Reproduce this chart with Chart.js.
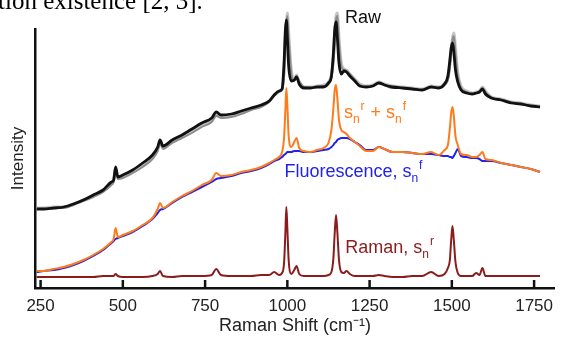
<!DOCTYPE html>
<html>
<head>
<meta charset="utf-8">
<script src="https://cdn.jsdelivr.net/npm/chart.js@4/dist/chart.umd.min.js"></script>
<style>
  html,body{margin:0;padding:0;background:#fff;overflow:hidden;}
  #wrap{position:relative;width:561px;height:337px;}
  #cut{position:absolute;left:-2px;top:-11px;font:25px "Liberation Serif",serif;line-height:24px;color:#000;white-space:nowrap;z-index:2;}
  canvas{position:absolute;left:0;top:0;}
</style>
</head>
<body>
<div id="wrap">
  <div id="cut">tion existence [2, 3].</div>
  <canvas id="spec" width="561" height="337"></canvas>
</div>
<script>
/* ---- data (arbitrary intensity units) ---- */
const shift = [
  238,260,290,320,350,380,410,440,465,472,478,485,500,
  530,560,590,606,613,622,650,680,710,740,770,784,798,
  830,860,890,920,945,960,975,984,990,994,997,1000,1004,
  1012,1021,1028,1036,1050,1070,1090,1110,1125,1134,1140,1144,1148,
  1152,1157,1164,1172,1180,1190,1205,1220,1240,1260,1278,1295,1320,
  1350,1380,1410,1437,1460,1478,1488,1494,1498,1502,1506,1511,1518,
  1528,1545,1562,1574,1584,1593,1602,1620,1650,1680,1710,1740,1768
];
const raw = [
  79,79,80,81,84,88,93,98,106,108,121,111,113,
  118,125,133,141,148,142,148,153,159,165,170,176,173,
  174,177,180,183,187,193,197,199,225,258,268,250,222,
  207,208,211,204,200,200,201,201,205,212,235,258,266,
  250,225,214,217,216,212,207,202,201,202,205,203,201,
  200,199,198,201,200,204,212,228,240,245,236,218,206,
  198,195,194,195,196,199,194,190,188,185,184,182,181
];
const rawRepA = [
  79,79,80,80,83,87,91,96,103,106,117,109,110,
  115,121,129,137,144,139,145,150,155,161,166,172,170,
  171,174,178,181,186,192,196,198,212,245,262,272,250,
  215,207,212,207,201,200,201,202,204,210,225,245,268,
  272,245,222,218,217,214,208,203,201,202,205,203,200,
  200,199,198,201,200,203,208,220,235,248,252,235,212,
  200,196,194,195,196,200,196,190,188,186,184,182,181
];
const rawRepB = [
  80,80,81,81,84,88,92,97,104,107,119,110,112,
  116,123,131,139,146,141,147,151,157,163,168,174,171,
  172,176,179,182,187,193,197,199,218,250,265,275,255,
  218,208,213,206,201,201,202,203,206,213,230,255,272,
  275,250,225,219,218,214,209,204,202,203,206,204,202,
  201,200,199,202,201,205,210,225,238,250,255,240,215,
  202,197,195,196,197,201,197,191,189,186,185,183,182
];
const combined = [
  17,17,19,21,24,28,33,39,46,49,60,51,53,
  57,63,70,79,85,80,86,92,97,103,108,115,112,
  113,116,118,121,125,128,131,136,150,178,200,183,152,
  141,146,150,140,137,136,138,140,145,158,180,198,203,
  190,168,158,156,154,150,146,142,137,137,141,139,136,
  136,135,134,136,133,138,143,160,175,181,172,152,143,
  134,133,131,131,133,136,129,128,125,123,121,119,116
];
const fluorescence = [
  16,17,18,20,23,27,32,38,45,47,49,50,52,
  56,62,69,75,78,79,85,91,96,101,106,109,110,
  112,115,117,120,124,127,129,131,133,134,135,136,136,
  136,137,137,137,136,136,137,138,139,141,143,145,146,
  148,149,150,150,150,149,146,143,138,138,141,139,136,
  136,135,134,134,133,132,132,131,131,130,132,135,139,
  132,131,130,130,129,127,127,127,125,123,121,119,116
];
const raman = [
  11,11,11,11,11,11,11,12,12,12,14,12,11,
  11,11,12,14,17,12,11,12,12,12,13,19,13,
  12,12,12,13,13,16,13,15,25,55,81,60,28,
  14,18,22,14,12,12,12,12,13,16,30,55,73,
  56,28,16,15,17,14,12,12,12,12,13,12,11,
  11,12,12,16,12,14,20,28,48,62,48,26,15,
  12,12,12,15,13,20,12,12,12,12,12,12,12
];
const tickVals = [250,500,750,1000,1250,1500,1750];

const C_RAW='#111111', C_SUM='#ff7a1a', C_FLU='#2222ee', C_RAM='#8a1c1c';
const FONT = '"Liberation Sans", Arial, sans-serif';

const pts = arr => arr.map((v,i)=>({x:shift[i], y:v}));
const line = (data,color,w) => ({data:pts(data), borderColor:color, borderWidth:w, pointRadius:0,
  cubicInterpolationMode:'monotone', fill:false, clip:false});

/* rich labels with sub/superscripts, placed in data space */
const LABELS = [
  {x:1175, y:265, color:C_RAW, parts:[['Raw']]},
  {x:1172, y:170, color:C_SUM, parts:[['s'],['n','sub'],['r','sup'],[' + '],['s'],['n','sub'],['f','sup']]},
  {x:991,  y:111, color:C_FLU, parts:[['Fluorescence, s'],['n','sub'],['f','sup']]},
  {x:1176, y:35,  color:C_RAM, parts:[['Raman, s'],['n','sub'],['r','sup']]}
];

const labelPlugin = {
  id:'labels',
  afterDatasetsDraw(chart){
    const {ctx, scales:{x,y}} = chart;
    ctx.save();
    ctx.textBaseline='alphabetic';
    LABELS.forEach(l=>{
      let px = x.getPixelForValue(l.x);
      const py = y.getPixelForValue(l.y);
      ctx.fillStyle = l.color;
      l.parts.forEach(([t,k])=>{
        ctx.font = (k ? '12px ' : '18px ') + FONT;
        const dy = k==='sub' ? 5 : k==='sup' ? -8 : 0;
        ctx.fillText(t, px, py+dy);
        px += ctx.measureText(t).width + (k ? 1 : 0);
      });
    });
    ctx.restore();
  }
};

/* tick marks point up into the plot */
const innerTicks = {
  id:'innerTicks',
  afterDraw(chart){
    const {ctx, scales:{x}} = chart;
    ctx.save(); ctx.strokeStyle='#111'; ctx.lineWidth=2.5;
    tickVals.forEach(v=>{
      const px = x.getPixelForValue(v);
      ctx.beginPath(); ctx.moveTo(px, x.top); ctx.lineTo(px, x.top-8); ctx.stroke();
    });
    ctx.restore();
  }
};

new Chart(document.getElementById('spec'), {
  type:'line',
  data:{datasets:[
    line(raman, C_RAM, 2),
    line(combined, C_SUM, 2),
    line(fluorescence, C_FLU, 2),
    line(raw, C_RAW, 2.8),
    line(rawRepA, '#8c8c8c', 2),
    line(rawRepB, '#c4c4c4', 3)
  ]},
  options:{
    responsive:false, animation:false, devicePixelRatio:1,
    layout:{padding:{top:29, right:0, left:0, bottom:0}},
    plugins:{legend:{display:false}, tooltip:{enabled:false}},
    scales:{
      x:{type:'linear', min:233, max:1813,
        afterBuildTicks: s => { s.ticks = tickVals.map(v=>({value:v})); },
        afterFit: s => { s.height = 49; },
        grid:{drawOnChartArea:false, drawTicks:false, color:'rgba(0,0,0,0)'},
        border:{display:true, color:'#111', width:2.5},
        ticks:{padding:8, color:'#222', autoSkip:false, maxRotation:0,
          callback: v => String(v),
          font:{family:FONT, size:17}},
        title:{display:true, text:'Raman Shift (cm⁻¹)', color:'#222', padding:{top:0,bottom:0},
          font:{family:FONT, size:18}}
      },
      y:{min:0, max:259,
        afterFit: s => { s.width = 35; },
        grid:{drawOnChartArea:false, drawTicks:false, color:'rgba(0,0,0,0)'},
        border:{display:true, color:'#111', width:2.5},
        ticks:{display:false},
        title:{display:true, text:'Intensity', color:'#222', padding:{top:8,bottom:0},
          font:{family:FONT, size:17}}
      }
    }
  },
  plugins:[labelPlugin, innerTicks]
});
</script>
</body>
</html>
